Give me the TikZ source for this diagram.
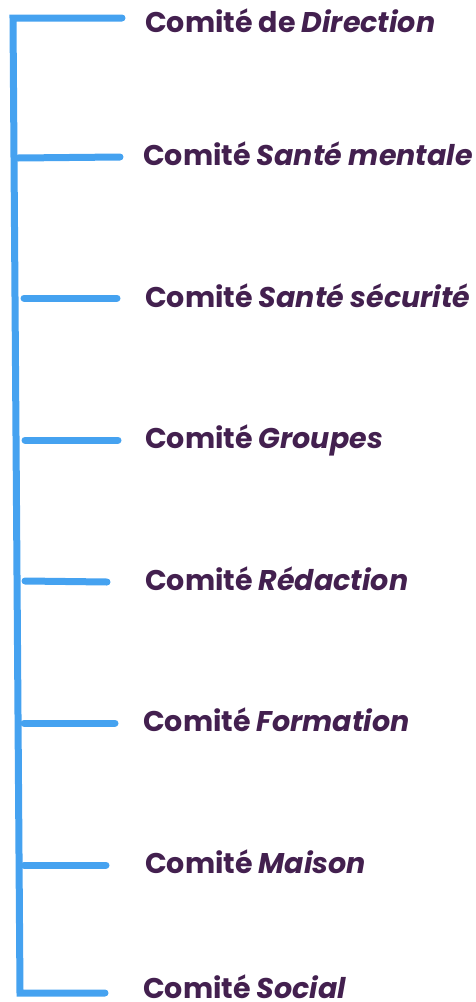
\documentclass[tikz,border=0pt]{standalone}
\usepackage{fontspec}
\setmainfont{Poppins}
\definecolor{lineblue}{HTML}{45A2F0}
\definecolor{txtpurple}{HTML}{43204F}
\begin{document}
\begin{tikzpicture}[x=1pt,y=-1pt,
  bar/.style={draw=lineblue,line width=7pt,line cap=round,line join=round},
  lbl/.style={anchor=base west,inner sep=0pt,text depth=0pt,text=txtpurple,font=\fontsize{28.5}{32}\selectfont\bfseries}]
\useasboundingbox (0,0) rectangle (475,1002);
% spine
\coordinate (top) at (13,18);
\coordinate (bot) at (20,993);
\coordinate (e1) at (122,18);
\coordinate (e8) at (105,993);
\draw[bar,line join=miter] (e1) -- (top) -- (bot) -- (e8);
% branches
\coordinate (s2) at (18,158); \coordinate (e2) at (120,157);
\coordinate (s3) at (24,298); \coordinate (e3) at (117,298);
\coordinate (s4) at (25,440); \coordinate (e4) at (118,440);
\coordinate (s5) at (25,581); \coordinate (e5) at (107,582);
\coordinate (s6) at (24,723); \coordinate (e6) at (115,723);
\coordinate (s7) at (24,865); \coordinate (e7) at (106,865);
\foreach \i in {2,...,7} \draw[bar] (s\i) -- (e\i);
% labels
\node[lbl] (t1) at (145,32) {Comité de \textit{Direction}};
\node[lbl] (t2) at (143,165) {Comité \textit{Santé mentale}};
\node[lbl] (t3) at (145,307) {Comité \textit{Santé sécurité}};
\node[lbl] (t4) at (145,448) {Comité \textit{Groupes}};
\node[lbl] (t5) at (145,590) {Comité \textit{Rédaction}};
\node[lbl] (t6) at (143,731) {Comité \textit{Formation}};
\node[lbl] (t7) at (145,873) {Comité \textit{Maison}};
\node[lbl] (t8) at (143,998) {Comité \textit{Social}};
\end{tikzpicture}
\end{document}
